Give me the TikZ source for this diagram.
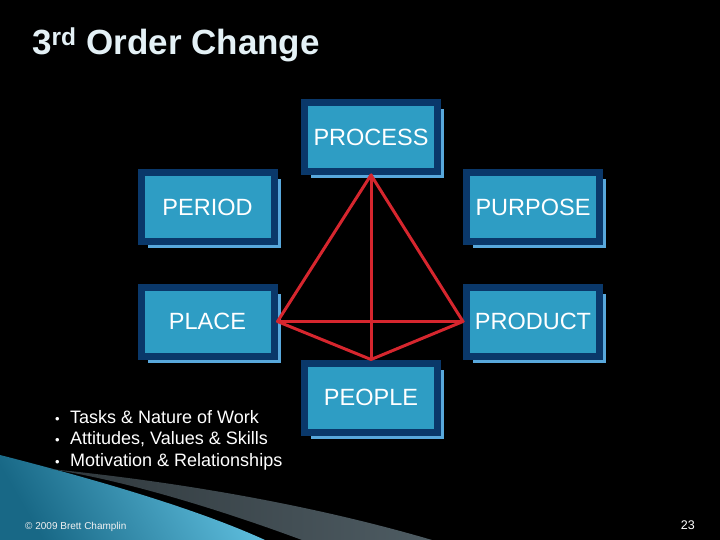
\documentclass[tikz,border=0pt]{standalone}
\usepackage{fontspec}
\setmainfont{Liberation Sans}
\usetikzlibrary{shadows}
\definecolor{navy}{RGB}{10,56,106}
\definecolor{boxfill}{RGB}{46,157,196}
\definecolor{shadowblue}{RGB}{88,168,220}
\definecolor{pyred}{RGB}{214,38,46}
\definecolor{titlecol}{RGB}{228,241,246}
\definecolor{greyband}{RGB}{78,92,99}
\definecolor{tealdark}{RGB}{24,104,134}
\definecolor{teallight}{RGB}{96,192,224}
\tikzset{
  pbox/.style={rectangle, fill=boxfill, draw=navy, line width=7pt,
    minimum width=133pt, minimum height=69pt, inner sep=0pt,
    text=white, font=\fontsize{23.5}{26}\selectfont,
    drop shadow={shadow xshift=6.5pt, shadow yshift=-6.5pt, fill=shadowblue, opacity=1}},
  pline/.style={draw=pyred, line width=3pt, line join=round, line cap=round},
  bullets/.style={text=white, font=\fontsize{18}{21.5}\selectfont, align=left, anchor=north west, inner sep=0pt}
}
\begin{document}
\begin{tikzpicture}[x=1pt,y=-1pt]
\fill[black] (0,0) rectangle (720,540);
\useasboundingbox (0,0) rectangle (720,540);
% bottom-left decoration
\shade[left color=tealdark, right color=teallight, shading angle=120]
  (0,455) .. controls (90,478) and (195,508) .. (265,540) -- (0,540) -- cycle;
\shade[left color=greyband!60!black, right color=greyband]
  (50,469) .. controls (200,484) and (330,510) .. (432,540) -- (302,540)
  .. controls (232,514) and (130,481) .. (50,469) -- cycle;
% title
\node[anchor=base west, inner sep=0pt, text=titlecol, font=\bfseries\fontsize{35}{38}\selectfont] (title) at (32,55) {3\textsuperscript{rd} Order Change};
% boxes
\node[pbox] (process) at (371,137) {PROCESS};
\node[pbox] (period) at (207.5,207) {PERIOD};
\node[pbox] (purpose) at (533,207) {PURPOSE};
\node[pbox] (place) at (207.5,321.5) {PLACE};
\node[pbox] (product) at (533,321.5) {PRODUCT};
\node[pbox] (people) at (371,397.5) {PEOPLE};
% pyramid
\draw[pline] (process.south) -- (place.east) -- (people.north) -- (product.west) -- cycle;
\draw[pline] (process.south) -- (people.north);
\draw[pline] (place.east) -- (product.west);
% bullets
\node[bullets] (list) at (55,410) {%
  \makebox[15pt][l]{\fontsize{13}{13}\selectfont\textbullet}Tasks \& Nature of Work\\
  \makebox[15pt][l]{\fontsize{13}{13}\selectfont\textbullet}Attitudes, Values \& Skills\\
  \makebox[15pt][l]{\fontsize{13}{13}\selectfont\textbullet}Motivation \& Relationships};
% footer
\node[anchor=base west, inner sep=0pt, text=white!90!gray, font=\fontsize{10}{12}\selectfont] (copy) at (25,529) {© 2009 Brett Champlin};
\node[anchor=base east, inner sep=0pt, text=white, font=\fontsize{12.5}{14}\selectfont] (page) at (695,529) {23};
\end{tikzpicture}
\end{document}
